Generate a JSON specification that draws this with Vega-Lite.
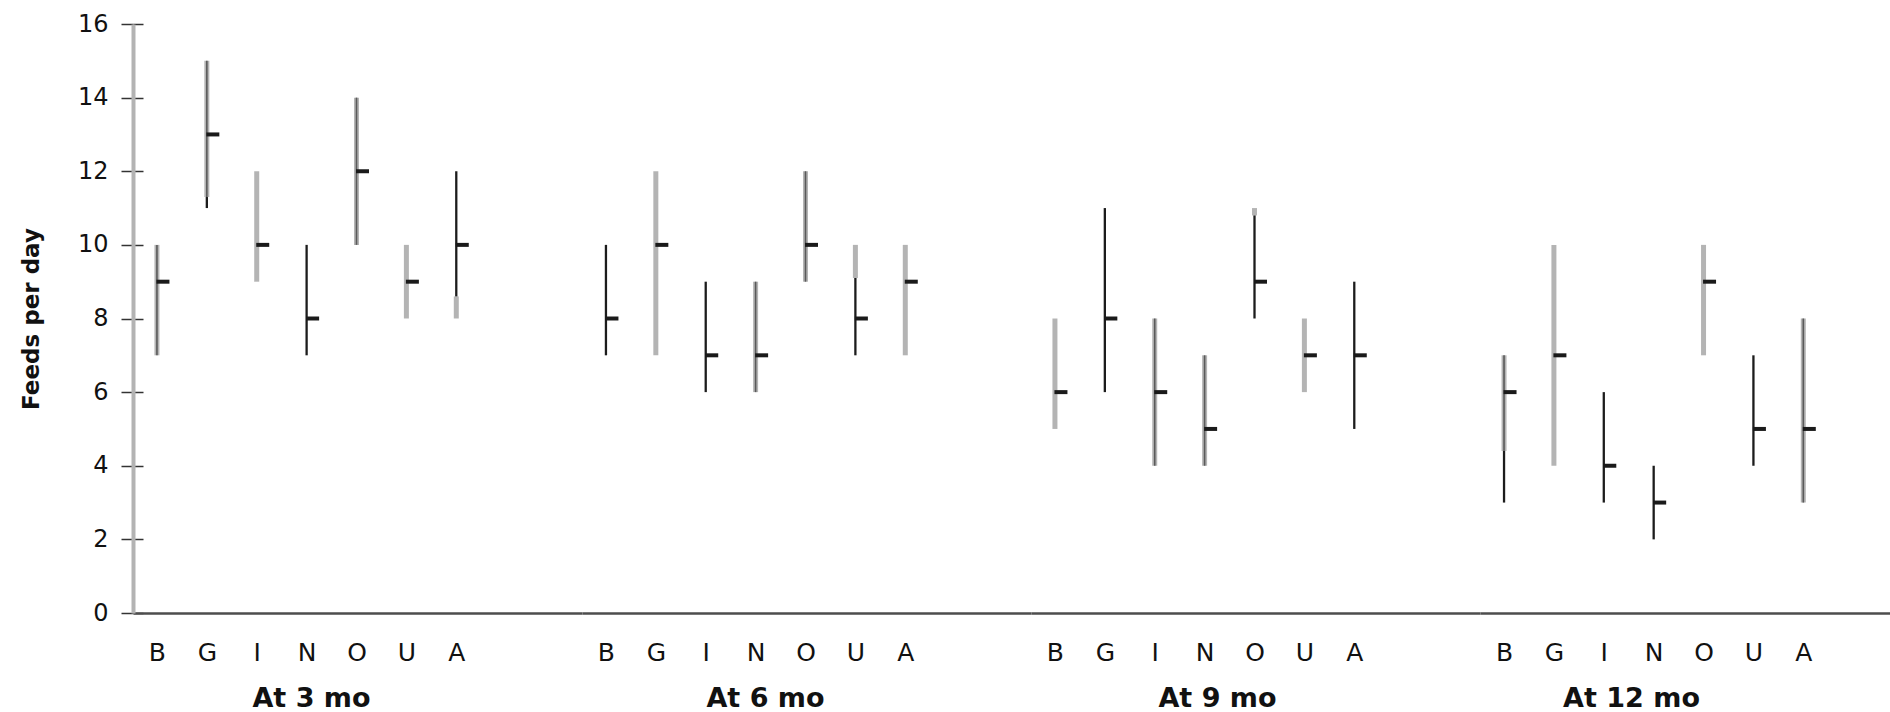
{
  "$schema": "https://vega.github.io/schema/vega-lite/v6.json",
  "padding": {"left": 20, "top": 12, "right": 0, "bottom": 0},
  "spacing": 0,
  "bounds": "flush",
  "config": {"view": {"stroke": null}, "font": "DejaVu Sans"},
  "datasets": {
    "ranges": [
      {"age": "At 3 mo", "country": "B", "lo": 7, "hi": 10, "part": "both"},
      {"age": "At 3 mo", "country": "G", "lo": 11.3, "hi": 15, "part": "both"},
      {"age": "At 3 mo", "country": "G", "lo": 11, "hi": 11.3, "part": "black"},
      {"age": "At 3 mo", "country": "I", "lo": 9, "hi": 12, "part": "gray"},
      {"age": "At 3 mo", "country": "N", "lo": 7, "hi": 10, "part": "black"},
      {"age": "At 3 mo", "country": "O", "lo": 10, "hi": 14, "part": "both"},
      {"age": "At 3 mo", "country": "U", "lo": 8, "hi": 10, "part": "gray"},
      {"age": "At 3 mo", "country": "A", "lo": 8.6, "hi": 12, "part": "black"},
      {"age": "At 3 mo", "country": "A", "lo": 8, "hi": 8.6, "part": "gray"},
      {"age": "At 6 mo", "country": "B", "lo": 7, "hi": 10, "part": "black"},
      {"age": "At 6 mo", "country": "G", "lo": 7, "hi": 12, "part": "gray"},
      {"age": "At 6 mo", "country": "I", "lo": 6, "hi": 9, "part": "black"},
      {"age": "At 6 mo", "country": "N", "lo": 6, "hi": 9, "part": "both"},
      {"age": "At 6 mo", "country": "O", "lo": 9, "hi": 12, "part": "both"},
      {"age": "At 6 mo", "country": "U", "lo": 9.1, "hi": 10, "part": "gray"},
      {"age": "At 6 mo", "country": "U", "lo": 7, "hi": 9.1, "part": "black"},
      {"age": "At 6 mo", "country": "A", "lo": 7, "hi": 10, "part": "gray"},
      {"age": "At 9 mo", "country": "B", "lo": 5, "hi": 8, "part": "gray"},
      {"age": "At 9 mo", "country": "G", "lo": 6, "hi": 11, "part": "black"},
      {"age": "At 9 mo", "country": "I", "lo": 4, "hi": 8, "part": "both"},
      {"age": "At 9 mo", "country": "N", "lo": 4, "hi": 7, "part": "both"},
      {"age": "At 9 mo", "country": "O", "lo": 10.8, "hi": 11, "part": "gray"},
      {"age": "At 9 mo", "country": "O", "lo": 8, "hi": 10.8, "part": "black"},
      {"age": "At 9 mo", "country": "U", "lo": 6, "hi": 8, "part": "gray"},
      {"age": "At 9 mo", "country": "A", "lo": 5, "hi": 9, "part": "black"},
      {"age": "At 12 mo", "country": "B", "lo": 4.4, "hi": 7, "part": "both"},
      {"age": "At 12 mo", "country": "B", "lo": 3, "hi": 4.4, "part": "black"},
      {"age": "At 12 mo", "country": "G", "lo": 4, "hi": 10, "part": "gray"},
      {"age": "At 12 mo", "country": "I", "lo": 3, "hi": 6, "part": "black"},
      {"age": "At 12 mo", "country": "N", "lo": 2, "hi": 4, "part": "black"},
      {"age": "At 12 mo", "country": "O", "lo": 7, "hi": 10, "part": "gray"},
      {"age": "At 12 mo", "country": "U", "lo": 4, "hi": 7, "part": "black"},
      {"age": "At 12 mo", "country": "A", "lo": 3, "hi": 8, "part": "both"}
    ],
    "medians": [
      {"age": "At 3 mo", "country": "B", "median": 9},
      {"age": "At 3 mo", "country": "G", "median": 13},
      {"age": "At 3 mo", "country": "I", "median": 10},
      {"age": "At 3 mo", "country": "N", "median": 8},
      {"age": "At 3 mo", "country": "O", "median": 12},
      {"age": "At 3 mo", "country": "U", "median": 9},
      {"age": "At 3 mo", "country": "A", "median": 10},
      {"age": "At 6 mo", "country": "B", "median": 8},
      {"age": "At 6 mo", "country": "G", "median": 10},
      {"age": "At 6 mo", "country": "I", "median": 7},
      {"age": "At 6 mo", "country": "N", "median": 7},
      {"age": "At 6 mo", "country": "O", "median": 10},
      {"age": "At 6 mo", "country": "U", "median": 8},
      {"age": "At 6 mo", "country": "A", "median": 9},
      {"age": "At 9 mo", "country": "B", "median": 6},
      {"age": "At 9 mo", "country": "G", "median": 8},
      {"age": "At 9 mo", "country": "I", "median": 6},
      {"age": "At 9 mo", "country": "N", "median": 5},
      {"age": "At 9 mo", "country": "O", "median": 9},
      {"age": "At 9 mo", "country": "U", "median": 7},
      {"age": "At 9 mo", "country": "A", "median": 7},
      {"age": "At 12 mo", "country": "B", "median": 6},
      {"age": "At 12 mo", "country": "G", "median": 7},
      {"age": "At 12 mo", "country": "I", "median": 4},
      {"age": "At 12 mo", "country": "N", "median": 3},
      {"age": "At 12 mo", "country": "O", "median": 9},
      {"age": "At 12 mo", "country": "U", "median": 5},
      {"age": "At 12 mo", "country": "A", "median": 5}
    ]
  },
  "hconcat": [
    {
      "width": 449, "height": 589,
      "encoding": {"x": {"field": "country", "type": "nominal",
        "scale": {"type": "point", "domain": ["B","G","I","N","O","U","A"," ","  "], "padding": 0.5, "align": 0.48},
        "axis": {"title": "At 3 mo", "titleFont": "DejaVu Sans", "titleFontSize": 27, "titleFontWeight": "bold", "titleColor": "#111", "titleX": 178, "titlePadding": 20,
          "labelFont": "DejaVu Sans", "labelFontSize": 25, "labelColor": "#111", "labelPadding": 27, "labelAngle": 0, "ticks": false, "tickSize": 0, "domainColor": "#4d4d4d", "domainWidth": 2.5}}},
      "layer": [
        {"data": {"name": "ranges"}, "transform": [{"filter": "datum.age == 'At 3 mo' && datum.part != 'black'"}],
         "mark": {"type": "rule", "color": "#b4b4b4", "strokeWidth": 5, "strokeCap": "butt"},
         "encoding": {"y": {"field": "lo", "type": "quantitative", "scale": {"domain": [0, 16], "nice": false},
            "axis": {"title": "Feeds per day", "titleFont": "DejaVu Sans", "titleFontSize": 23, "titleFontWeight": "bold", "titleColor": "#111", "titlePadding": 34,
              "values": [0,2,4,6,8,10,12,14,16], "labelFont": "DejaVu Sans", "labelFontSize": 24, "labelColor": "#111", "labelPadding": 13,
              "tickSize": 12, "tickColor": "#333", "tickWidth": 1.5, "domainColor": "#b3b3b3", "domainWidth": 4,
              "grid": true, "gridColor": "#333", "gridWidth": 1.5, "gridDash": [10, 5000]}},
           "y2": {"field": "hi"}}},
        {"data": {"name": "ranges"}, "transform": [{"filter": "datum.age == 'At 3 mo' && datum.part == 'both'"}],
         "mark": {"type": "rule", "color": "#5a5a5a", "strokeWidth": 1.6, "strokeCap": "butt"},
         "encoding": {"y": {"field": "lo", "type": "quantitative", "scale": {"domain": [0, 16], "nice": false},
            "axis": {"title": "Feeds per day", "titleFont": "DejaVu Sans", "titleFontSize": 23, "titleFontWeight": "bold", "titleColor": "#111", "titlePadding": 34,
              "values": [0,2,4,6,8,10,12,14,16], "labelFont": "DejaVu Sans", "labelFontSize": 24, "labelColor": "#111", "labelPadding": 13,
              "tickSize": 12, "tickColor": "#333", "tickWidth": 1.5, "domainColor": "#b3b3b3", "domainWidth": 4,
              "grid": true, "gridColor": "#333", "gridWidth": 1.5, "gridDash": [10, 5000]}},
           "y2": {"field": "hi"}}},
        {"data": {"name": "ranges"}, "transform": [{"filter": "datum.age == 'At 3 mo' && datum.part == 'black'"}],
         "mark": {"type": "rule", "color": "#1c1c1c", "strokeWidth": 2.3, "strokeCap": "butt"},
         "encoding": {"y": {"field": "lo", "type": "quantitative", "scale": {"domain": [0, 16], "nice": false},
            "axis": {"title": "Feeds per day", "titleFont": "DejaVu Sans", "titleFontSize": 23, "titleFontWeight": "bold", "titleColor": "#111", "titlePadding": 34,
              "values": [0,2,4,6,8,10,12,14,16], "labelFont": "DejaVu Sans", "labelFontSize": 24, "labelColor": "#111", "labelPadding": 13,
              "tickSize": 12, "tickColor": "#333", "tickWidth": 1.5, "domainColor": "#b3b3b3", "domainWidth": 4,
              "grid": true, "gridColor": "#333", "gridWidth": 1.5, "gridDash": [10, 5000]}},
           "y2": {"field": "hi"}}},
        {"data": {"name": "medians"}, "transform": [{"filter": "datum.age == 'At 3 mo'"}],
         "mark": {"type": "tick", "color": "#1a1a1a", "opacity": 1, "thickness": 4, "size": 13, "xOffset": 6},
         "encoding": {"y": {"field": "median", "type": "quantitative", "scale": {"domain": [0, 16], "nice": false},
            "axis": {"title": "Feeds per day", "titleFont": "DejaVu Sans", "titleFontSize": 23, "titleFontWeight": "bold", "titleColor": "#111", "titlePadding": 34,
              "values": [0,2,4,6,8,10,12,14,16], "labelFont": "DejaVu Sans", "labelFontSize": 24, "labelColor": "#111", "labelPadding": 13,
              "tickSize": 12, "tickColor": "#333", "tickWidth": 1.5, "domainColor": "#b3b3b3", "domainWidth": 4,
              "grid": true, "gridColor": "#333", "gridWidth": 1.5, "gridDash": [10, 5000]}}}}
      ]
    },
    {
      "width": 449, "height": 589,
      "encoding": {"x": {"field": "country", "type": "nominal",
        "scale": {"type": "point", "domain": ["B","G","I","N","O","U","A"," ","  "], "padding": 0.5, "align": 0.48},
        "axis": {"title": "At 6 mo", "titleFont": "DejaVu Sans", "titleFontSize": 27, "titleFontWeight": "bold", "titleColor": "#111", "titleX": 183, "titlePadding": 20,
          "labelFont": "DejaVu Sans", "labelFontSize": 25, "labelColor": "#111", "labelPadding": 27, "labelAngle": 0, "ticks": false, "tickSize": 0, "domainColor": "#4d4d4d", "domainWidth": 2.5}}},
      "layer": [
        {"data": {"name": "ranges"}, "transform": [{"filter": "datum.age == 'At 6 mo' && datum.part != 'black'"}],
         "mark": {"type": "rule", "color": "#b4b4b4", "strokeWidth": 5, "strokeCap": "butt"},
         "encoding": {"y": {"field": "lo", "type": "quantitative", "scale": {"domain": [0, 16], "nice": false}, "axis": null}, "y2": {"field": "hi"}}},
        {"data": {"name": "ranges"}, "transform": [{"filter": "datum.age == 'At 6 mo' && datum.part == 'both'"}],
         "mark": {"type": "rule", "color": "#5a5a5a", "strokeWidth": 1.6, "strokeCap": "butt"},
         "encoding": {"y": {"field": "lo", "type": "quantitative", "scale": {"domain": [0, 16], "nice": false}, "axis": null}, "y2": {"field": "hi"}}},
        {"data": {"name": "ranges"}, "transform": [{"filter": "datum.age == 'At 6 mo' && datum.part == 'black'"}],
         "mark": {"type": "rule", "color": "#1c1c1c", "strokeWidth": 2.3, "strokeCap": "butt"},
         "encoding": {"y": {"field": "lo", "type": "quantitative", "scale": {"domain": [0, 16], "nice": false}, "axis": null}, "y2": {"field": "hi"}}},
        {"data": {"name": "medians"}, "transform": [{"filter": "datum.age == 'At 6 mo'"}],
         "mark": {"type": "tick", "color": "#1a1a1a", "opacity": 1, "thickness": 4, "size": 13, "xOffset": 6},
         "encoding": {"y": {"field": "median", "type": "quantitative", "scale": {"domain": [0, 16], "nice": false}, "axis": null}}}
      ]
    },
    {
      "width": 449, "height": 589,
      "encoding": {"x": {"field": "country", "type": "nominal",
        "scale": {"type": "point", "domain": ["B","G","I","N","O","U","A"," ","  "], "padding": 0.5, "align": 0.48},
        "axis": {"title": "At 9 mo", "titleFont": "DejaVu Sans", "titleFontSize": 27, "titleFontWeight": "bold", "titleColor": "#111", "titleX": 186, "titlePadding": 20,
          "labelFont": "DejaVu Sans", "labelFontSize": 25, "labelColor": "#111", "labelPadding": 27, "labelAngle": 0, "ticks": false, "tickSize": 0, "domainColor": "#4d4d4d", "domainWidth": 2.5}}},
      "layer": [
        {"data": {"name": "ranges"}, "transform": [{"filter": "datum.age == 'At 9 mo' && datum.part != 'black'"}],
         "mark": {"type": "rule", "color": "#b4b4b4", "strokeWidth": 5, "strokeCap": "butt"},
         "encoding": {"y": {"field": "lo", "type": "quantitative", "scale": {"domain": [0, 16], "nice": false}, "axis": null}, "y2": {"field": "hi"}}},
        {"data": {"name": "ranges"}, "transform": [{"filter": "datum.age == 'At 9 mo' && datum.part == 'both'"}],
         "mark": {"type": "rule", "color": "#5a5a5a", "strokeWidth": 1.6, "strokeCap": "butt"},
         "encoding": {"y": {"field": "lo", "type": "quantitative", "scale": {"domain": [0, 16], "nice": false}, "axis": null}, "y2": {"field": "hi"}}},
        {"data": {"name": "ranges"}, "transform": [{"filter": "datum.age == 'At 9 mo' && datum.part == 'black'"}],
         "mark": {"type": "rule", "color": "#1c1c1c", "strokeWidth": 2.3, "strokeCap": "butt"},
         "encoding": {"y": {"field": "lo", "type": "quantitative", "scale": {"domain": [0, 16], "nice": false}, "axis": null}, "y2": {"field": "hi"}}},
        {"data": {"name": "medians"}, "transform": [{"filter": "datum.age == 'At 9 mo'"}],
         "mark": {"type": "tick", "color": "#1a1a1a", "opacity": 1, "thickness": 4, "size": 13, "xOffset": 6},
         "encoding": {"y": {"field": "median", "type": "quantitative", "scale": {"domain": [0, 16], "nice": false}, "axis": null}}}
      ]
    },
    {
      "width": 410, "height": 589,
      "encoding": {"x": {"field": "country", "type": "nominal",
        "scale": {"type": "point", "domain": ["B","G","I","N","O","U","A"," "], "padding": 0.61, "align": 0.395},
        "axis": {"title": "At 12 mo", "titleFont": "DejaVu Sans", "titleFontSize": 27, "titleFontWeight": "bold", "titleColor": "#111", "titleX": 151, "titlePadding": 20,
          "labelFont": "DejaVu Sans", "labelFontSize": 25, "labelColor": "#111", "labelPadding": 27, "labelAngle": 0, "ticks": false, "tickSize": 0, "domainColor": "#4d4d4d", "domainWidth": 2.5}}},
      "layer": [
        {"data": {"name": "ranges"}, "transform": [{"filter": "datum.age == 'At 12 mo' && datum.part != 'black'"}],
         "mark": {"type": "rule", "color": "#b4b4b4", "strokeWidth": 5, "strokeCap": "butt"},
         "encoding": {"y": {"field": "lo", "type": "quantitative", "scale": {"domain": [0, 16], "nice": false}, "axis": null}, "y2": {"field": "hi"}}},
        {"data": {"name": "ranges"}, "transform": [{"filter": "datum.age == 'At 12 mo' && datum.part == 'both'"}],
         "mark": {"type": "rule", "color": "#5a5a5a", "strokeWidth": 1.6, "strokeCap": "butt"},
         "encoding": {"y": {"field": "lo", "type": "quantitative", "scale": {"domain": [0, 16], "nice": false}, "axis": null}, "y2": {"field": "hi"}}},
        {"data": {"name": "ranges"}, "transform": [{"filter": "datum.age == 'At 12 mo' && datum.part == 'black'"}],
         "mark": {"type": "rule", "color": "#1c1c1c", "strokeWidth": 2.3, "strokeCap": "butt"},
         "encoding": {"y": {"field": "lo", "type": "quantitative", "scale": {"domain": [0, 16], "nice": false}, "axis": null}, "y2": {"field": "hi"}}},
        {"data": {"name": "medians"}, "transform": [{"filter": "datum.age == 'At 12 mo'"}],
         "mark": {"type": "tick", "color": "#1a1a1a", "opacity": 1, "thickness": 4, "size": 13, "xOffset": 6},
         "encoding": {"y": {"field": "median", "type": "quantitative", "scale": {"domain": [0, 16], "nice": false}, "axis": null}}}
      ]
    }
  ]
}
